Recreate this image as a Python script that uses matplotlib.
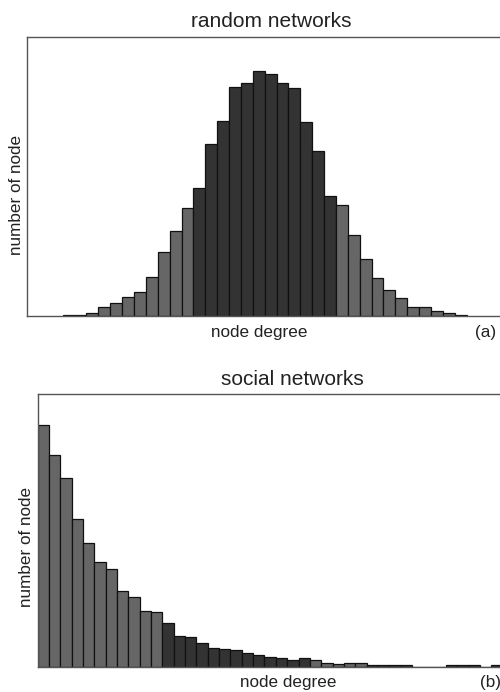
import matplotlib
matplotlib.use("Agg")
import matplotlib.pyplot as plt
import numpy as np

plt.rcParams['font.family'] = ['Liberation Sans', 'DejaVu Sans']

# degree histograms (relative heights)
random_counts = [4, 4, 8, 28, 38, 58, 73, 118, 191, 256, 324, 385, 518, 587,
                 689, 701, 735, 728, 701, 685, 583, 496, 359, 332, 244, 172,
                 115, 77, 55, 28, 28, 16, 8, 4]
random_dark = (11, 23)   # bars drawn dark in panel (a)

social_counts = [725, 636, 566, 443, 372, 313, 294, 228, 208, 168, 164, 130,
                 93, 90, 71, 57, 53, 49, 41, 34, 30, 27, 19, 27, 19, 11, 7,
                 11, 11, 4, 4, 4, 4, 0, 0, 0, 4, 4, 4, 0, 4, 4]
social_gray = [(0, 11), (24, 29)]  # bars drawn light in panel (b)

DARK = '#333333'
GRAY = '#666666'
TXT = '#222222'

W, H = 500, 692
fig = plt.figure(figsize=(W / 100, H / 100), dpi=100)


def px_axes(left, top, right, bottom):
    return fig.add_axes([left / W, 1 - bottom / H, (right - left) / W, (bottom - top) / H])


def px_text(x, y, s, **kw):
    kw.setdefault('color', TXT)
    fig.text(x / W, 1 - y / H, s, **kw)


def style(ax):
    ax.set_xticks([])
    ax.set_yticks([])
    for s in ax.spines.values():
        s.set_color('#555555')
        s.set_linewidth(1.0)


# panel (a)
ax1 = px_axes(27.3, 37, 505, 316)
x1 = np.arange(len(random_counts))
c1 = [DARK if random_dark[0] <= i < random_dark[1] else GRAY for i in x1]
ax1.bar(x1, random_counts, width=1.0, align='edge', color=c1,
        edgecolor='#111111', linewidth=0.9)
ax1.set_xlim(-2.98, -2.98 + (505 - 27.3) / 11.88)
ax1.set_ylim(0, 838)
style(ax1)

px_text(271, 27, 'random networks', ha='center', va='baseline', fontsize=15)
px_text(259.5, 337.5, 'node degree', ha='center', va='baseline', fontsize=12.3)
px_text(475, 337.5, '(a)', ha='left', va='baseline', fontsize=12.3)
px_text(17, 195, 'number of node', ha='center', va='center',
        rotation=90, fontsize=12.3)

# panel (b)
ax2 = px_axes(37.7, 394, 505, 666.7)
x2 = np.arange(len(social_counts))
c2 = [GRAY if any(a <= i < b for a, b in social_gray) else DARK for i in x2]
ax2.bar(x2, social_counts, width=1.0, align='edge', color=c2,
        edgecolor='#111111', linewidth=0.9)
ax2.set_xlim(0, (505 - 37.7) / 11.34)
ax2.set_ylim(0, 818)
style(ax2)

px_text(292, 385, 'social networks', ha='center', va='baseline', fontsize=15)
px_text(288.5, 687.5, 'node degree', ha='center', va='baseline', fontsize=12.3)
px_text(480, 687.5, '(b)', ha='left', va='baseline', fontsize=12.3)
px_text(27, 547, 'number of node', ha='center', va='center',
        rotation=90, fontsize=12.3)

fig.savefig('out.png', dpi=100)
